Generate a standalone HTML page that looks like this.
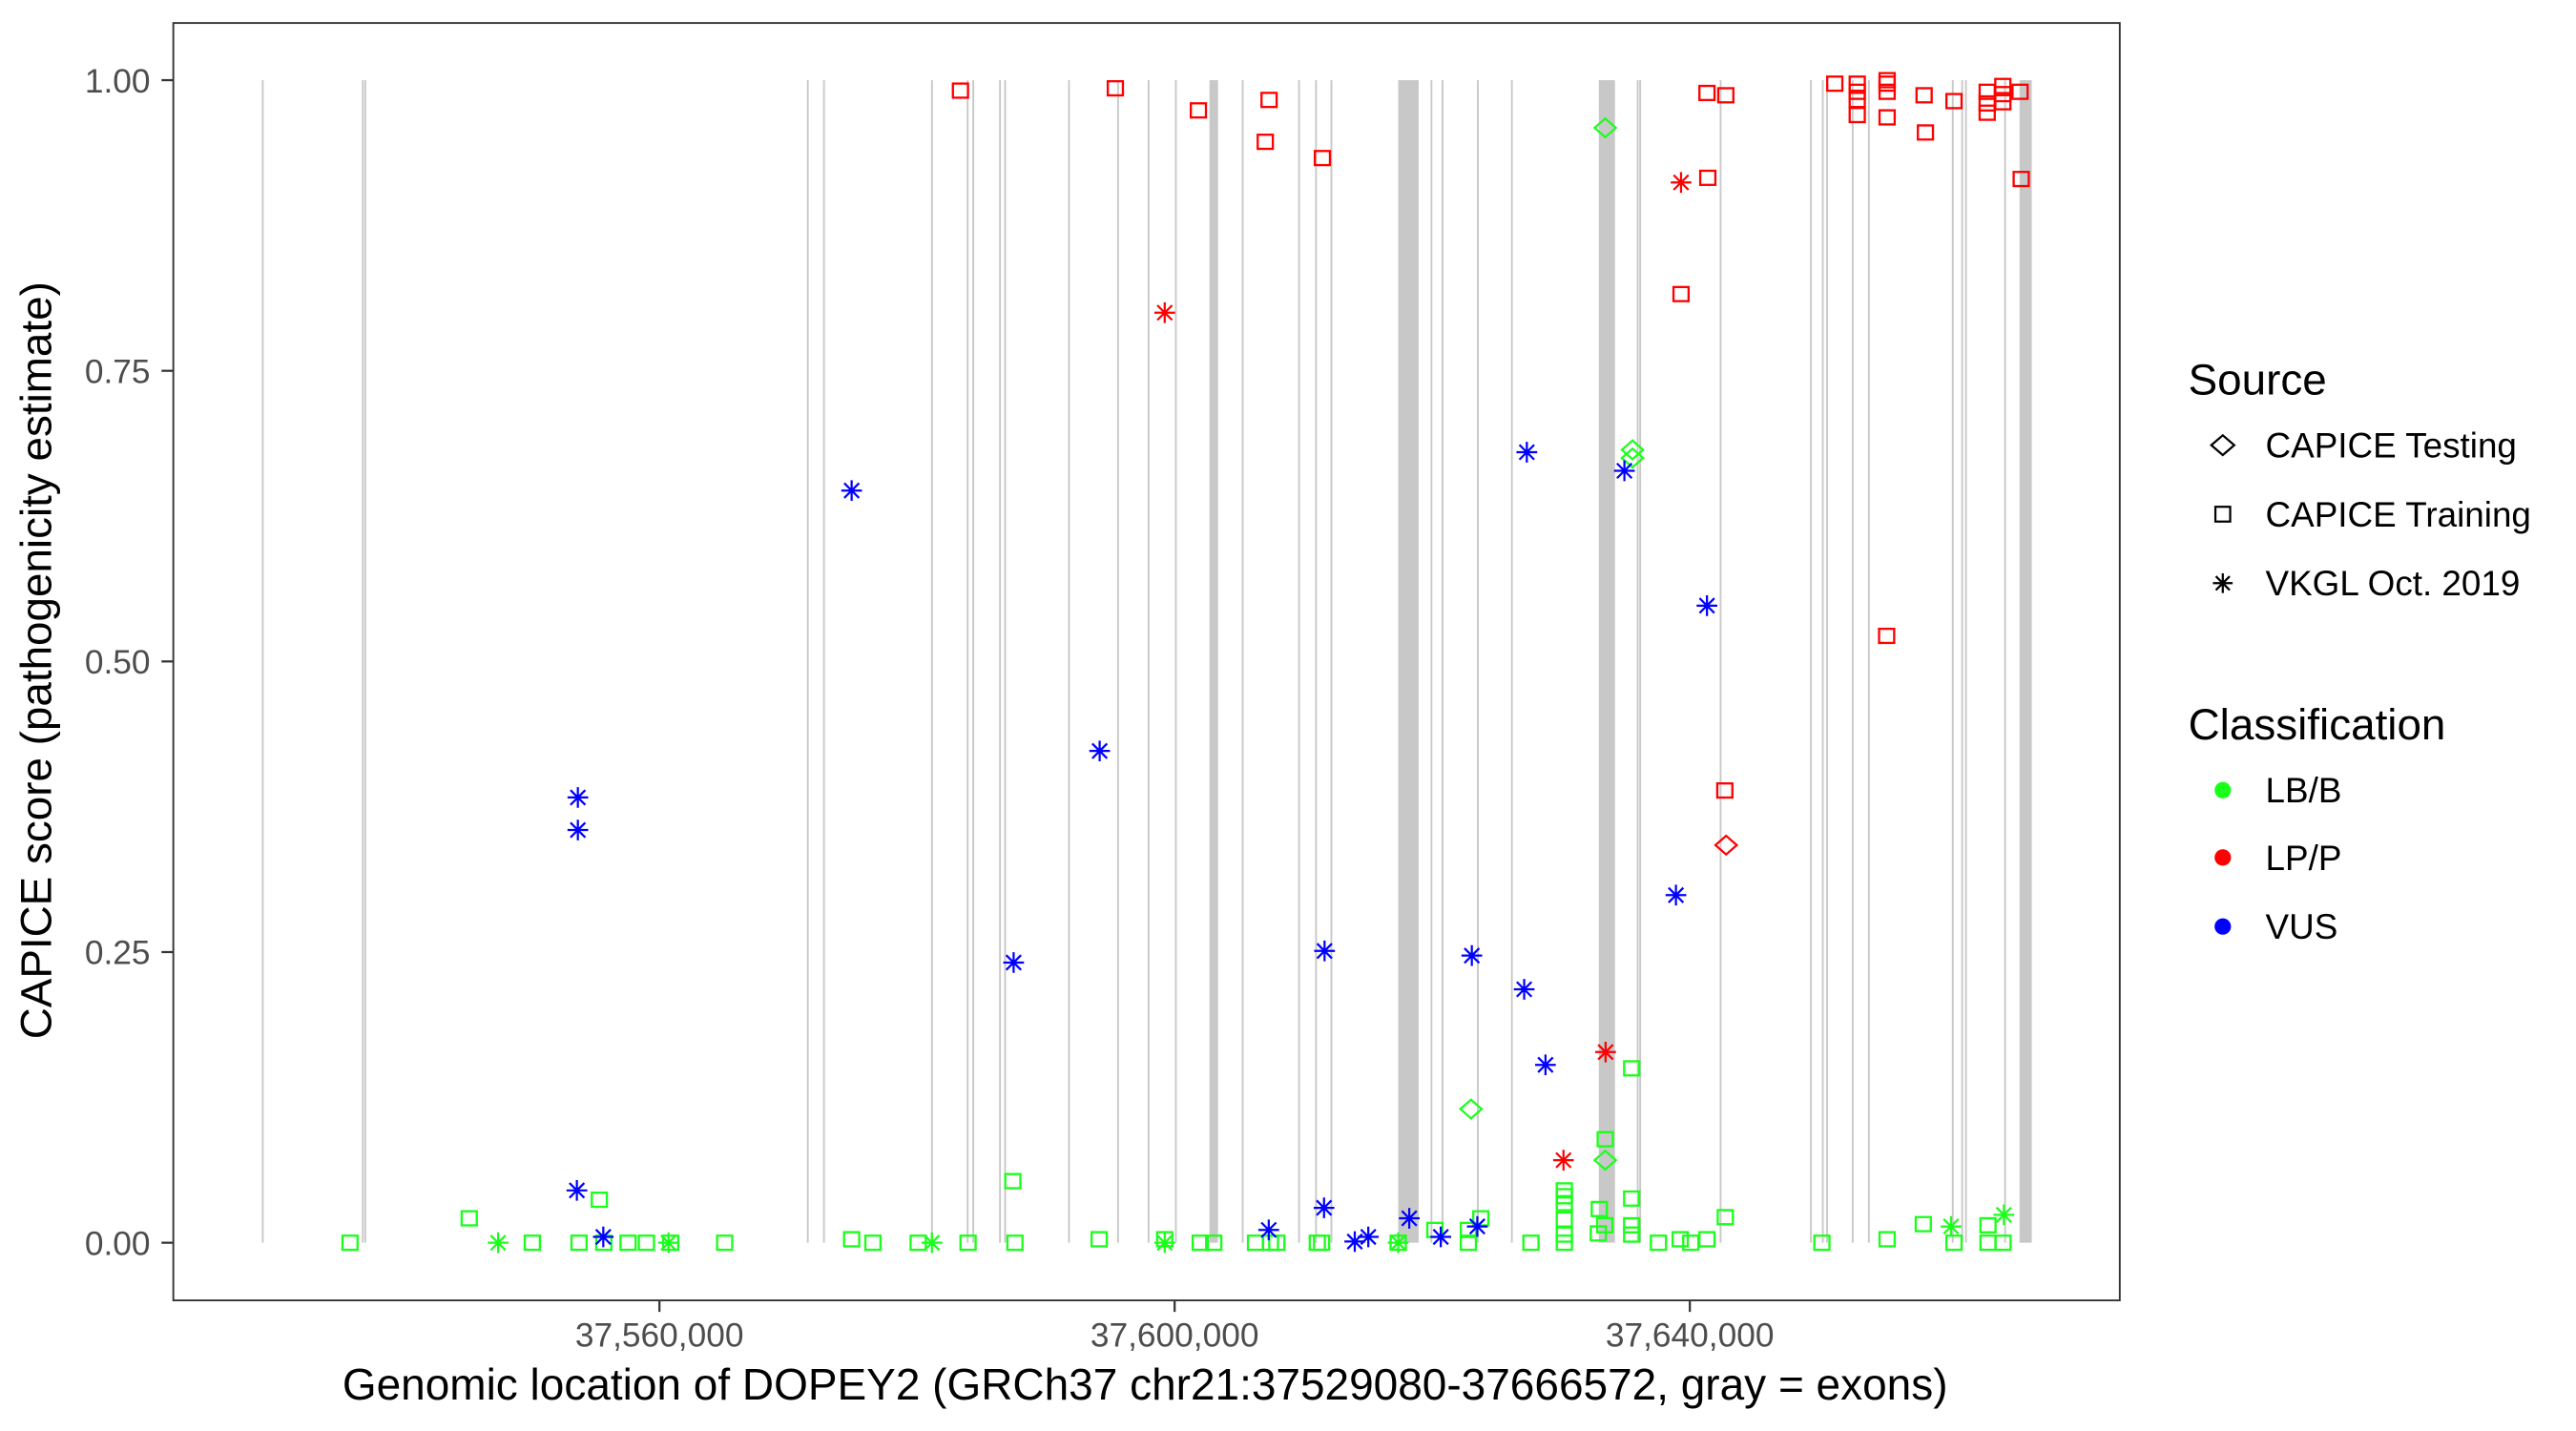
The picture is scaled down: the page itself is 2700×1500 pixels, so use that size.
<!DOCTYPE html>
<html><head><meta charset="utf-8"><style>
html,body{margin:0;padding:0;background:#fff;}
svg{display:block;font-family:"Liberation Sans",Arial,sans-serif;}
</style></head><body>
<svg id="chart" width="2700" height="1500" viewBox="0 0 1568 871.11" xmlns="http://www.w3.org/2000/svg">
<rect x="0" y="0" width="1568" height="871.11" fill="#fff"/>
<g id="exons"></g>
<g id="points"></g>
<rect x="105.5" y="14" width="1184.8" height="777.6" fill="none" stroke="#333" stroke-width="1.1"/>
<g id="yaxis"></g>
<g id="xaxis"></g>
<text transform="translate(31,402) rotate(-90)" text-anchor="middle" font-size="26.6" fill="#000">CAPICE score (pathogenicity estimate)</text>
<text x="697" y="852" text-anchor="middle" font-size="26.7" fill="#000">Genomic location of DOPEY2 (GRCh37 chr21:37529080-37666572, gray = exons)</text>
<g>
 <text x="1332" y="240" font-size="26.6">Source</text>
 <path d="M1346,271 L1353,265 L1360,271 L1353,277 Z" fill="none" stroke="#000" stroke-width="1.3"/>
 <text x="1379" y="278.5" font-size="21.4">CAPICE Testing</text>
 <rect x="1348.5" y="308.5" width="9" height="9" fill="none" stroke="#000" stroke-width="1.3"/>
 <text x="1379" y="320.5" font-size="21.4">CAPICE Training</text>
 <path d="M1347,355 H1359 M1353,349 V361 M1348.8,350.8 L1357.2,359.2 M1357.2,350.8 L1348.8,359.2" stroke="#000" stroke-width="1.3"/>
 <text x="1379" y="362.5" font-size="21.4">VKGL Oct. 2019</text>
 <text x="1332" y="450" font-size="26.6">Classification</text>
 <circle cx="1353" cy="481" r="5" fill="#1aff1a"/>
 <text x="1379" y="488.5" font-size="21.4">LB/B</text>
 <circle cx="1353" cy="522" r="5" fill="#ff0000"/>
 <text x="1379" y="529.5" font-size="21.4">LP/P</text>
 <circle cx="1353" cy="564" r="5" fill="#0000ff"/>
 <text x="1379" y="571.5" font-size="21.4">VUS</text>
</g>
</svg>
<script>
// ---- data ----
const exonStarts = [37529129,37536898,37537091,37571448,37572705,37581089,37583858,37584294,37586371,37586768,37591730,37595537,37597909,37600024,37602703,37605216,37609588,37610908,37612100,37617357,37619869,37620728,37623472,37626113,37632933,37635882,37636074,37642317,37649330,37650253,37650586,37652573,37653830,37660342,37661073,37661368,37664406,37665598];
const exonEnds   = [37529209,37536978,37537171,37571528,37572785,37581169,37583938,37584374,37586451,37586848,37591810,37595617,37597989,37600104,37603370,37605296,37609668,37610988,37612180,37618946,37619949,37620808,37623552,37626193,37634189,37635962,37636154,37642397,37649410,37650333,37650666,37652653,37653910,37660422,37661153,37661448,37664486,37666547];

const pointPos = [
37535975,37545231,37547475,37550129,37553757,37555334,37555680,37557564,37558987,37560705,37560872,37565064,37574922,37576576,
37580089,37581153,37583961,37587601,37594140,37599229,37599229,37601986,37603037,37606280,37607434,37607934,37611075,37611408,37617357,37617357,37622805,37627664,
37587435,37620203,37623767,37622805,37623010,37633433,37635548,37635548,37635484,37633433,37633433,
37630254,37630254,37630254,37630254,37630254,37630254,37632971,37635484,37635484,37635484,37633400,37632895,37642753,37637561,37639253,37640074,37641330,37650253,37655317,37658124,37660278,37660509,37663150,37663150,37664316,37664380,
37583371,37595396,37601844,37607331,37607037,37611472,37599229,37630190,37633459,37641330,37642792,37639317,37641394,37639317,37655278,37642715,37642818,
37651253,37652996,37652996,37652996,37652996,37655317,37655317,37655317,37655317,37658188,37658290,37660509,37663086,37663086,37663086,37664303,37664303,37664303,37665637,37665727,
37553590,37553667,37553667,37555641,37574922,37594178,37587499,37611639,37623074,37627138,37628792,37627343,37634920,37641330,37638920,37611600,37607306,37618216,37623498,37613985,37615036,37620664];
const pointScore = [
0,0.021,0,0,0,0.037,0,0,0,0,0,0,0.003,0,
0,0,0,0,0.003,0.003,0,0,0,0,0,0,0,0,0,0,0,0,
0.053,0.011,0.021,0.011,0.115,0.959,0.682,0.675,0.150,0.089,0.071,
0.045,0.040,0.034,0.020,0.007,0,0.029,0.038,0.015,0.007,0.015,0.008,0.022,0,0.003,0,0.003,0,0.003,0.016,0.014,0,0.015,0,0,0.024,
0.991,0.993,0.974,0.983,0.947,0.933,0.80,0.071,0.164,0.989,0.987,0.912,0.916,0.816,0.522,0.389,0.342,
0.997,0.997,0.990,0.983,0.970,1.0,0.997,0.990,0.968,0.987,0.955,0.982,0.990,0.980,0.972,0.995,0.988,0.981,0.990,0.915,
0.045,0.383,0.355,0.005,0.647,0.423,0.241,0.251,0.247,0.218,0.153,0.680,0.664,0.548,0.299,0.030,0.011,0.021,0.014,0.001,0.005,0.005];
const pointSource = [
"S","S","V","S","S","S","S","S","S","V","S","S","S","S",
"S","V","S","S","S","S","V","S","S","S","S","S","S","S","S","V","S","S",
"S","S","S","S","T","T","T","T","S","S","T",
"S","S","S","S","S","S","S","S","S","S","S","S","S","S","S","S","S","S","S","S","V","S","S","S","S","V",
"S","S","S","S","S","S","V","V","V","S","S","V","S","S","S","S","T",
"S","S","S","S","S","S","S","S","S","S","S","S","S","S","S","S","S","S","S","S",
"V","V","V","V","V","V","V","V","V","V","V","V","V","V","V","V","V","V","V","V","V","V"];
const pointClass = [].concat(
 Array(69).fill("LB/B"),
 Array(37).fill("LP/P"),
 Array(22).fill("VUS"));

const yTicks = [0, 0.25, 0.5, 0.75, 1];
const yTickLabels = ["0.00","0.25","0.50","0.75","1.00"];
const xTicks = [37560000, 37600000, 37640000];
const xTickLabels = ["37,560,000","37,600,000","37,640,000"];

// ---- scales ----
const X0 = 401.4, PXPERBP = 0.00784;
function xs(p){ return X0 + (p - 37560000) * PXPERBP; }
function ys(v){ return 756.5 - 707.7 * v; }
const colors = {"LB/B":"#1aff1a","LP/P":"#ff0000","VUS":"#0000ff"};
const NS = "http://www.w3.org/2000/svg";
function mk(tag, attrs, parent){ const e=document.createElementNS(NS,tag); for(const k in attrs) e.setAttribute(k,attrs[k]); parent.appendChild(e); return e; }

// exons
const gEx = document.getElementById('exons');
for (let i=0;i<exonStarts.length;i++){
  const x1 = xs(exonStarts[i]), x2 = xs(exonEnds[i]);
  const w = Math.max(1.1, x2-x1);
  const r = mk('rect',{x:x1,y:ys(1),width:w,height:ys(0)-ys(1),fill:'#c8c8c8'},gEx);
  
  
}

// points
const gP = document.getElementById('points');
for (let i=0;i<pointPos.length;i++){
  const cx = xs(pointPos[i]), cy = ys(pointScore[i]), c = colors[pointClass[i]];
  let el;
  if (pointSource[i]==="S"){
    el = mk('rect',{x:cx-4.6,y:cy-4.3,width:9.2,height:8.6,fill:'none',stroke:c,'stroke-width':1.35},gP);
  } else if (pointSource[i]==="T"){
    el = mk('path',{d:`M${cx-6.5},${cy} L${cx},${cy-5.7} L${cx+6.5},${cy} L${cx},${cy+5.7} Z`,fill:'none',stroke:c,'stroke-width':1.3},gP);
  } else {
    const a=6.3, b=4.5;
    el = mk('path',{d:`M${cx-a},${cy} H${cx+a} M${cx},${cy-a} V${cy+a} M${cx-b},${cy-b} L${cx+b},${cy+b} M${cx+b},${cy-b} L${cx-b},${cy+b}`,stroke:c,'stroke-width':1.3,fill:'none'},gP);
  }
  
  
}

// y axis
const gY = document.getElementById('yaxis');
for (let i=0;i<yTicks.length;i++){
  const y = ys(yTicks[i]);
  const t = mk('line',{x1:98.3,x2:105.5,y1:y,y2:y,stroke:'#333','stroke-width':1.3},gY);
  
  
  const l = mk('text',{x:91.5,y:y+7.4,'text-anchor':'end','font-size':20.5,fill:'#4d4d4d'},gY);
  l.textContent = yTickLabels[i];
  
  
}
// x axis
const gX = document.getElementById('xaxis');
for (let i=0;i<xTicks.length;i++){
  const x = xs(xTicks[i]);
  const t = mk('line',{x1:x,x2:x,y1:791.6,y2:798.6,stroke:'#333','stroke-width':1.3},gX);
  
  
  const l = mk('text',{x:x,y:819.8,'text-anchor':'middle','font-size':20.5,fill:'#4d4d4d'},gX);
  l.textContent = xTickLabels[i];
  
  
}
</script>
</body></html>
